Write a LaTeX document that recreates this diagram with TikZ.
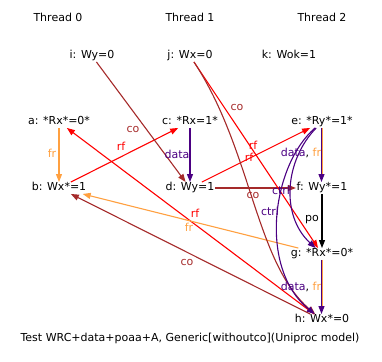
\documentclass[tikz,border=0pt]{standalone}
\usepackage{fontspec}
\setmainfont{DejaVu Sans}
\usetikzlibrary{arrows.meta}
\definecolor{cobrown}{HTML}{A52A2A}
\definecolor{rfred}{HTML}{FF0000}
\definecolor{frorange}{HTML}{FFA040}
\definecolor{depindigo}{HTML}{4B0082}

% name/x/y/text
\def\setofthreads{T0/58/17/Thread 0, T1/190/17/Thread 1, T2/322/17/Thread 2}
\def\setofevents{i/92/56/{i: Wy=0}, j/190/56/{j: Wx=0}, k/289/56/{k: Wok=1},
  a/59/122/{a: *Rx*=0*}, b/59/188/{b: Wx*=1},
  c/190/122/{c: *Rx=1*}, d/190/188/{d: Wy=1},
  e/322/122/{e: *Ry*=1*}, f/322/188/{f: Wy*=1},
  g/322/254/{g: *Rx*=0*}, h/322/320/{h: Wx*=0}}
% src/dst/colour
\def\setofrelations{a/b/frorange, c/d/depindigo, b/c/rfred, h/a/rfred,
  h/b/cobrown, g/b/frorange, d/e/rfred, d/f/cobrown, i/d/cobrown,
  j/g/rfred, f/g/black}
% name/x/y/colour/text
\def\setoflabels{
    {lfr1/52/153/frorange/fr},%
    {ldata1/177/154/depindigo/data},%
    {lrf1/121/146/rfred/rf},%
    {lco1/133/129/cobrown/co},%
    {lco2/237/107/cobrown/co},%
    {lrf2/253/145/rfred/rf},%
    {lrf3/249/157/rfred/rf},%
    {lco3/253/195/cobrown/co},%
    {lctrl1/281/190/depindigo/ctrl},%
    {lctrl2/270/211/depindigo/ctrl},%
    {lrf4/195/213/rfred/rf},%
    {lfr2/189/227/frorange/fr},%
    {lco4/187/262/cobrown/co},%
    {lpo/312/220/black/po}%
   }

\begin{document}
\begin{tikzpicture}[x=1pt,y=-1pt,%
    every node/.style={font=\fontsize{11}{13}\selectfont},%
    evt/.style={rectangle,inner sep=0.5pt,text height=8pt,text depth=2.5pt},%
    lbl/.style={inner sep=0pt},%
    rel/.style={line width=1.1pt,-{Triangle[length=8pt,width=6pt]}}]

    \useasboundingbox (0,0) rectangle (382,361);

    %% THREADS AND EVENTS
    \foreach \n/\x/\y/\t in \setofthreads {%
      \node[lbl] (\n) at (\x,\y) {\t};
    }
    \foreach \n/\x/\y/\t in \setofevents {%
      \node[evt] (\n) at (\x,\y) {\t};
    }

    %% DRAW RELATIONS
    \foreach \s/\d/\c in \setofrelations {%
      \draw[rel,\c] (\s) -- (\d);
    }

    % co from the initial write, and the two ctrl edges
    \draw[rel,cobrown] (j) .. controls (252,150) and (255,262) .. (h);
    \draw[rel,depindigo] (e) .. controls (285,160) and (280,215) .. (g);
    \draw[rel,depindigo] (e) .. controls (272,165) and (258,268) .. (h);

    % data+fr drawn as two lines side by side
    \foreach \s/\d in {e/f, g/h} {%
      \draw[line width=1.1pt,frorange,shorten >=7pt,%
        transform canvas={xshift=0.6pt}] (\s) -- (\d);
      \draw[rel,depindigo,transform canvas={xshift=-0.5pt}] (\s) -- (\d);
    }

    %% DRAW LABELS
    \foreach \n/\x/\y/\c/\t in \setoflabels {%
      \node[lbl,text=\c] (\n) at (\x,\y) {\t};
    }
    \node[lbl] (ldf1) at (301,153)%
      {\textcolor{depindigo}{data}, \textcolor{frorange}{fr}};
    \node[lbl] (ldf2) at (301,287)%
      {\textcolor{depindigo}{data}, \textcolor{frorange}{fr}};

    \node[lbl] (caption) at (190,338)%
      {Test WRC+data+poaa+A, Generic[withoutco](Uniproc model)};

\end{tikzpicture}
\end{document}
